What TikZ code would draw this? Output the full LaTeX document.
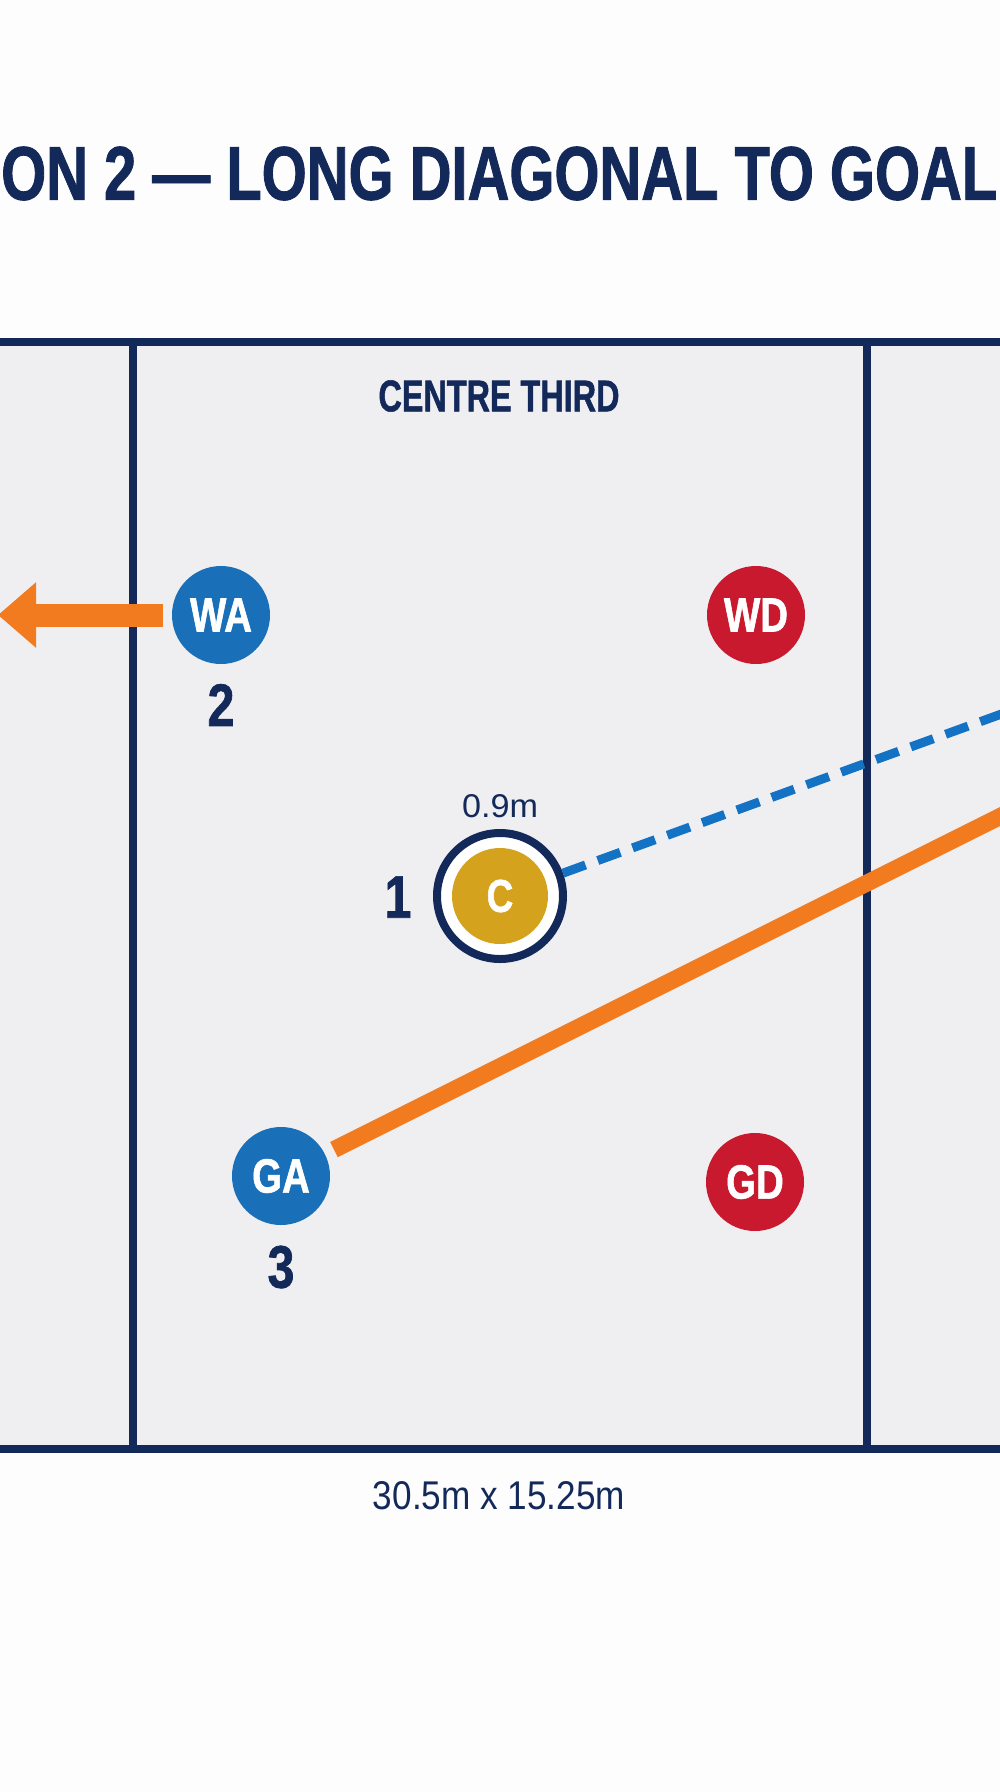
\documentclass[tikz,border=0pt]{standalone}
\usepackage{fontspec}
\usepackage{graphicx}
\usetikzlibrary{arrows.meta}
\newfontfamily\condb[FakeStretch=0.82]{Liberation Sans}
\newfontfamily\heavy[FakeStretch=0.80,FakeBold=1.2]{Liberation Sans Bold}
\newfontfamily\condr[FakeStretch=0.88]{Liberation Sans}
\definecolor{navy}{HTML}{13295A}
\definecolor{courtgray}{HTML}{EFEFF1}
\definecolor{bgwhite}{HTML}{FDFDFD}
\definecolor{pblue}{HTML}{1A70B8}
\definecolor{pred}{HTML}{C8192F}
\definecolor{pgold}{HTML}{D4A21C}
\definecolor{porange}{HTML}{F27A1F}
\definecolor{dblue}{HTML}{1372C4}
\begin{document}
\begin{tikzpicture}[x=1pt,y=-1pt,
  courtline/.style={draw=navy, line width=8.5pt},
  player/.style={circle, minimum size=98pt, inner sep=0pt, text=white,
    font=\heavy\fontsize{48}{48}\selectfont},
  attack/.style={player, fill=pblue},
  defend/.style={player, fill=pred},
  numlabel/.style={inner sep=0pt, text=navy, font=\heavy\fontsize{60}{60}\selectfont},
  plaintext/.style={inner sep=0pt, text=navy},
  pass/.style={draw=porange, line width=17pt},
  run/.style={draw=porange, line width=23pt, -{Triangle[length=38pt,width=63pt]}},
  lead/.style={draw=dblue, line width=9pt, dash pattern=on 24pt off 13pt}
]
\useasboundingbox (0,0) rectangle (1000,1792);
\clip (0,0) rectangle (1000,1792);
\fill[bgwhite] (0,0) rectangle (1000,1792);
% court
\fill[courtgray] (-20,342) rectangle (1020,1449);
\draw[courtline] (-20,342) -- (1020,342);
\draw[courtline] (-20,1449) -- (1020,1449);
\draw[courtline] (133,342) -- (133,1449);
\draw[courtline] (867,342) -- (867,1449);
% title
\node[plaintext, anchor=west] (title) at (1,173.5)
  {\resizebox{996pt}{53pt}{\heavy ON 2 — LONG DIAGONAL TO GOAL}};
\node[plaintext] (third) at (499,396)
  {\resizebox{241pt}{31pt}{\heavy CENTRE THIRD}};
% players
\node[attack] (WA) at (221,615) {WA};
\node[defend] (WD) at (756,615) {WD};
\node[attack] (GA) at (281,1176) {GA};
\node[defend] (GD) at (755,1182) {GD};
\node[circle, draw=navy, line width=8pt, fill=white, minimum size=126pt, inner sep=0pt] (Cring) at (500,896) {};
\node[circle, fill=pgold, minimum size=96pt, inner sep=0pt, text=white,
  font=\heavy\fontsize{46}{46}\selectfont] (C) at (500,896) {C};
% labels
\node[numlabel] (n1) at (398,897) {1};
\node[numlabel] (n2) at (221,705) {2};
\node[numlabel] (n3) at (281,1267) {3};
\node[plaintext] (dist) at (500,806) {\resizebox{76pt}{23pt}{\condr 0.9m}};
\node[plaintext] (dims) at (499,1496) {\resizebox{252pt}{28pt}{\condr 30.5m x 15.25m}};
% connectors
\coordinate (WAtip) at (-2,615);
\coordinate (diagend) at (1040,796.5);
\coordinate (dashend) at (1040,700);
\draw[run, shorten <=9pt] (WA) -- (WAtip);
\draw[pass, shorten <=10pt] (GA) -- (diagend);
\draw[lead] (Cring) -- (dashend);
\end{tikzpicture}
\end{document}
